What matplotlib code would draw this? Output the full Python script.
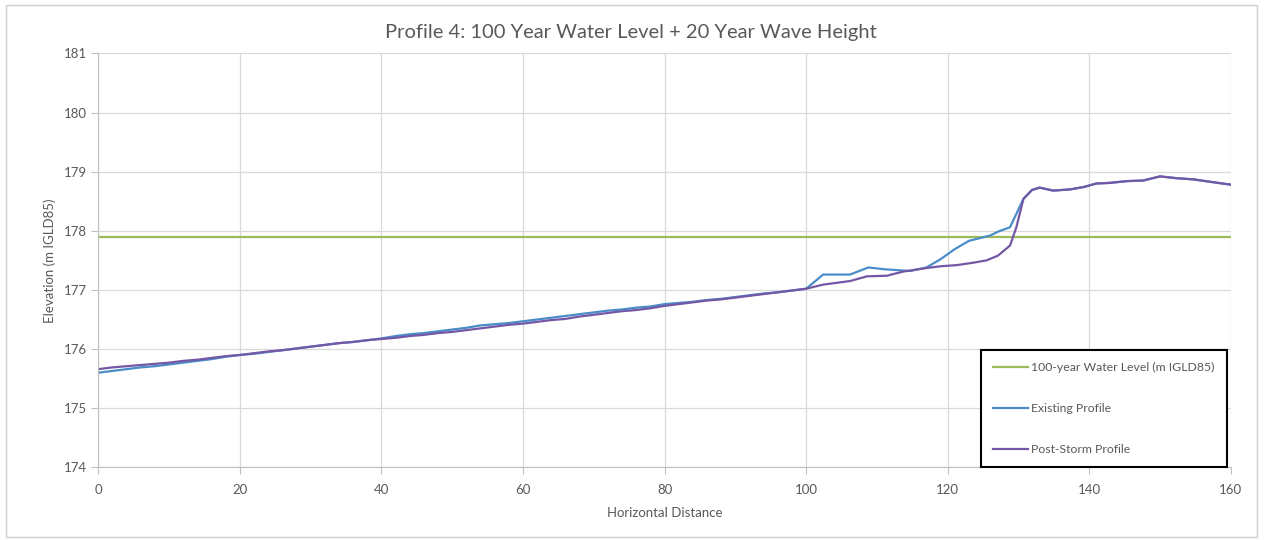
import matplotlib
matplotlib.use('Agg')
import matplotlib.pyplot as plt
from matplotlib.patches import Rectangle

# DATA
water_level = 177.9

existing_x = [0, 2, 4, 6, 8, 10, 12, 14, 16, 18, 20, 22, 24, 26, 28, 30, 32, 34, 36, 38,
              40, 42, 44, 46, 48, 50, 52, 54, 56, 58, 60, 62, 64, 66, 68, 70, 72, 74, 76, 78,
              80, 82, 84, 86, 88, 90, 92, 94, 96, 98, 100, 102.4, 106.2, 108.8, 111, 114.7,
              117, 119, 121, 123, 126, 127.2, 128.8, 130.7, 131.9, 133, 134.9, 137.3, 139.2,
              141, 142.9, 145.3, 147.6, 150, 152.3, 154.7, 157, 160]
existing_y = [175.60, 175.63, 175.66, 175.69, 175.71, 175.74, 175.77, 175.80, 175.83, 175.87,
              175.90, 175.92, 175.95, 175.98, 176.01, 176.04, 176.07, 176.10, 176.12, 176.15,
              176.18, 176.22, 176.25, 176.27, 176.30, 176.33, 176.36, 176.40, 176.42, 176.44,
              176.47, 176.50, 176.53, 176.56, 176.59, 176.62, 176.65, 176.67, 176.70, 176.72,
              176.76, 176.78, 176.80, 176.83, 176.85, 176.88, 176.91, 176.94, 176.96, 176.99,
              177.02, 177.26, 177.26, 177.38, 177.35, 177.32, 177.38, 177.52, 177.69, 177.83,
              177.92, 177.99, 178.06, 178.54, 178.69, 178.73, 178.68, 178.70, 178.74,
              178.80, 178.81, 178.84, 178.85, 178.92, 178.89, 178.87, 178.83, 178.78]

poststorm_x = [0, 2, 4, 6, 8, 10, 12, 14, 16, 18, 20, 22, 24, 26, 28, 30, 32, 34, 36, 38,
               40, 42, 44, 46, 48, 50, 52, 54, 56, 58, 60, 62, 64, 66, 68, 70, 72, 74, 76, 78,
               80, 82, 84, 86, 88, 90, 92, 94, 96, 98, 100, 102.4, 106.2, 108.6, 111.4, 113.7,
               117, 119, 121.3, 123.6, 125.5, 127.1, 128.8, 129.7, 130.7, 131.9, 133, 134.9,
               137.3, 139.2, 141, 142.9, 145.3, 147.6, 150, 152.3, 154.7, 157, 160]
poststorm_y = [175.66, 175.69, 175.71, 175.73, 175.75, 175.77, 175.80, 175.82, 175.85, 175.88,
               175.90, 175.93, 175.96, 175.98, 176.01, 176.04, 176.07, 176.10, 176.12, 176.15,
               176.17, 176.19, 176.22, 176.24, 176.27, 176.29, 176.32, 176.35, 176.38, 176.41,
               176.43, 176.46, 176.49, 176.51, 176.55, 176.58, 176.61, 176.64, 176.66, 176.69,
               176.73, 176.76, 176.79, 176.82, 176.84, 176.87, 176.90, 176.93, 176.96, 176.99,
               177.02, 177.09, 177.15, 177.23, 177.24, 177.31, 177.37, 177.40, 177.42, 177.46,
               177.50, 177.58, 177.75, 178.06, 178.54, 178.69, 178.73, 178.68,
               178.70, 178.74, 178.80, 178.81, 178.84, 178.85, 178.92, 178.89, 178.87, 178.83, 178.78]

x_ticks = [0, 20, 40, 60, 80, 100, 120, 140, 160]
y_ticks = [174, 175, 176, 177, 178, 179, 180, 181]

plt.rcParams['font.family'] = ['Lato', 'DejaVu Sans']
text_col = '#595959'

fig = plt.figure(figsize=(12.65, 5.4), dpi=100)
ax = fig.add_axes([0.0777, 0.1346, 0.8953, 0.7665])

# chart area border
fig.patches.append(Rectangle((0.005, 0.006), 0.989, 0.985, transform=fig.transFigure,
                             fill=False, edgecolor='#d0d0d0', linewidth=1.0))

ax.plot([0, 160], [water_level, water_level], color='#9bbb59', linewidth=1.6,
        label='100-year Water Level (m IGLD85)')
ax.plot(existing_x, existing_y, color='#4a8cc8', linewidth=1.6, label='Existing Profile')
ax.plot(poststorm_x, poststorm_y, color='#7458a6', linewidth=1.6, label='Post-Storm Profile')

ax.set_xlim(0, 160)
ax.set_ylim(174, 181)
ax.set_xticks(x_ticks)
ax.set_yticks(y_ticks)
ax.grid(True, color='#d9d9d9', linewidth=0.9)
ax.set_axisbelow(True)
for s in ['top', 'right']:
    ax.spines[s].set_visible(False)
for s in ['left', 'bottom']:
    ax.spines[s].set_color('#bfbfbf')
ax.tick_params(axis='both', colors='#bfbfbf', labelcolor=text_col, labelsize=9.5, length=5)
ax.tick_params(axis='x', pad=7)

# title centred on the whole figure like the original
fig.text(0.499, 0.94, 'Profile 4: 100 Year Water Level + 20 Year Wave Height', fontsize=14.5,
         color=text_col, ha='center', va='center')
ax.set_xlabel('Horizontal Distance', fontsize=9.5, color=text_col, labelpad=8)
ax.set_ylabel('Elevation (m IGLD85)', fontsize=9.5, color=text_col, labelpad=5)

leg = ax.legend(loc='lower right', bbox_to_anchor=(0.9965, 0.0), borderaxespad=0,
                fontsize=8.8, labelspacing=2.45, handlelength=2.8, handletextpad=0.3,
                borderpad=1.0, fancybox=False, framealpha=1, edgecolor='black')
leg.get_frame().set_linewidth(1.5)
for t in leg.get_texts():
    t.set_color(text_col)

fig.savefig('out.png', dpi=100)
